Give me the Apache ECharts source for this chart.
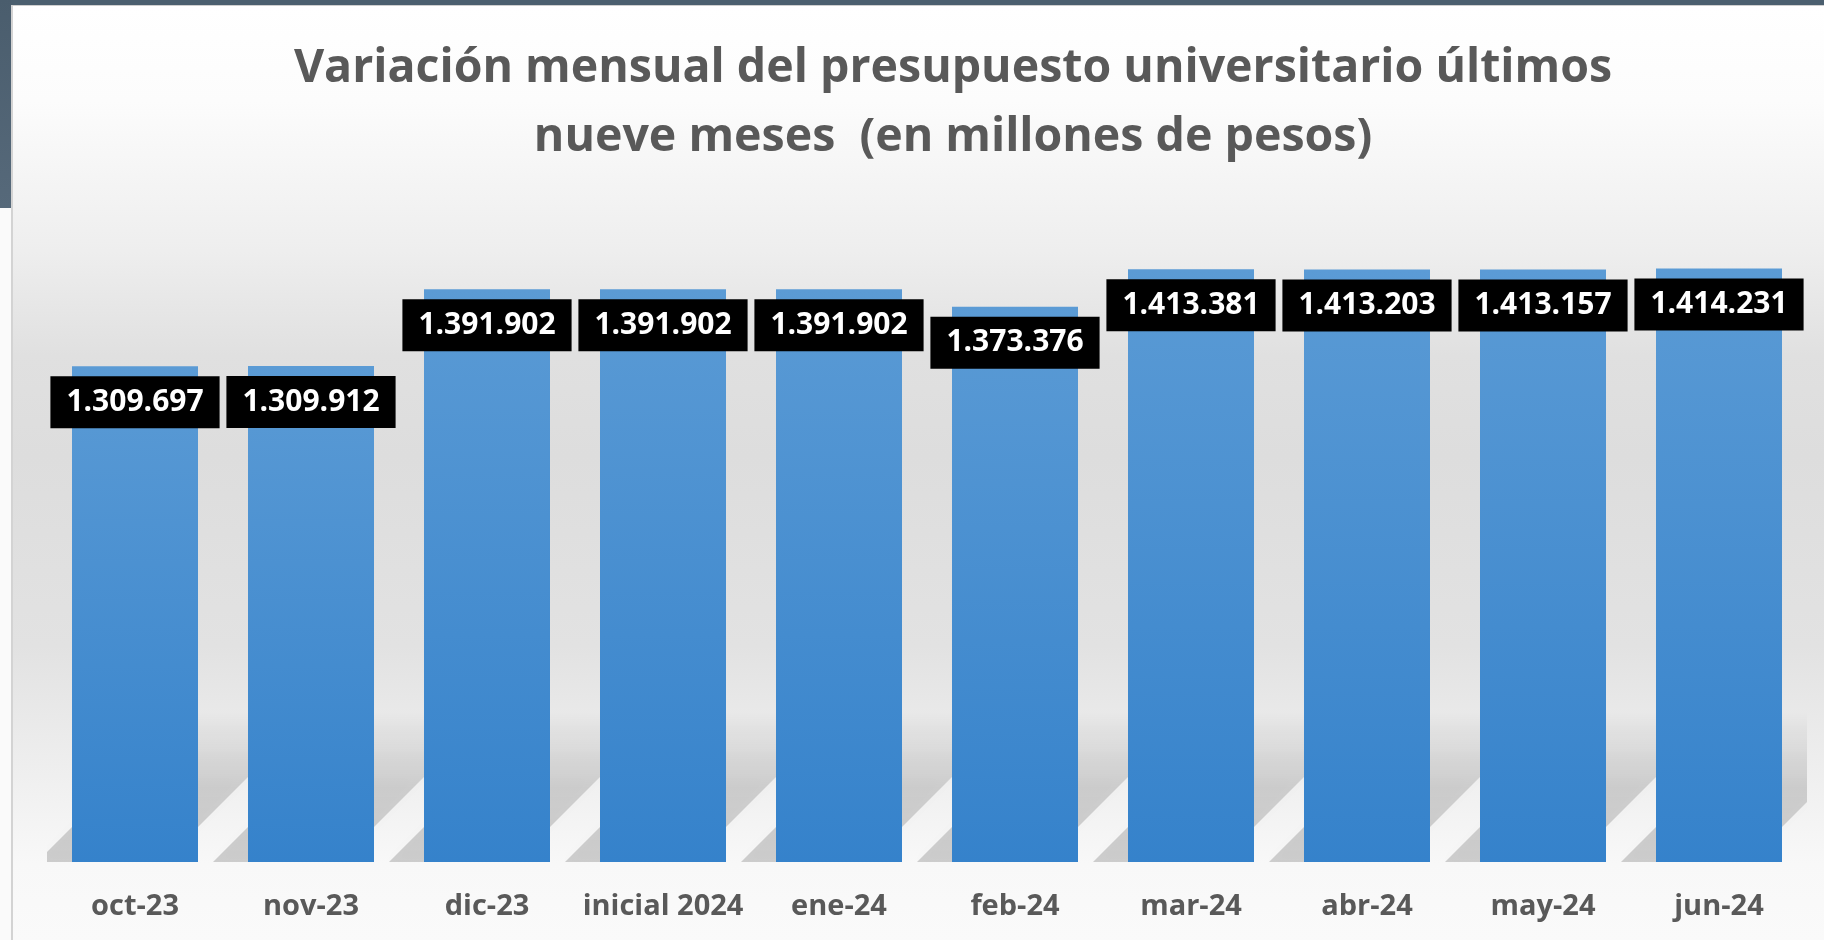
<!doctype html>
<html lang="es">
<head>
<meta charset="UTF-8"/>
<title>Variación mensual del presupuesto universitario</title>
<script src="https://cdn.jsdelivr.net/npm/echarts@6/dist/echarts.min.js"></script>
<style>
html, body { margin:0; padding:0; width:1824px; height:940px; overflow:hidden; background:#fafafa; }
.top_bar { position:absolute; left:0; top:0; width:1824px; height:5px; background:#4b5f6f; }
.side_bar { position:absolute; left:0; top:0; width:11px; height:208px; background:linear-gradient(to bottom,#4a5d6d,#56697a); }
.panel { position:absolute; left:11px; top:5px; width:1813px; height:935px; box-sizing:border-box;
  border-left:2px solid #d3d3d3; border-top:1px solid #cfcfcf;
  background:linear-gradient(to bottom,#ffffff 0px,#fcfcfc 95px,#eeeeee 245px,#e0e0e0 350px,#dddddd 450px,#e2e2e2 640px,#eeeeee 760px,#f8f8f8 857px,#fafafa 935px); }
#chart { position:absolute; left:0; top:0; width:1824px; height:940px; }
</style>
</head>
<body>

<div class="top_bar"></div>
<div class="side_bar"></div>
<div class="panel"></div>
<div id="chart"></div>

<script>
// datos (millones de pesos)
var meses = ['oct-23','nov-23','dic-23','inicial 2024','ene-24','feb-24','mar-24','abr-24','may-24','jun-24'];
var presupuesto = [1309697, 1309912, 1391902, 1391902, 1391902, 1373376, 1413381, 1413203, 1413157, 1414231];
var titulo = ['Variación mensual del presupuesto universitario últimos', 'nueve meses  (en millones de pesos)'];

var yMin = 780000, yMax = 1450000;

function fmt(v) {
    return String(v).replace(/\B(?=(\d{3})+(?!\d))/g, '.');
}

var myChart = echarts.init(document.getElementById('chart'), null, { renderer: 'canvas' });

var option = {
    backgroundColor: 'transparent',
    animation: false,
    graphic: [
        { type:'text', x:953, y:69, z:10, style:{ text:titulo[0], fill:'#595959', font:'bold 46.5px "Open Sans"', textAlign:'center', textVerticalAlign:'middle' } },
        { type:'text', x:953, y:138, z:10, style:{ text:titulo[1], fill:'#595959', font:'bold 46.5px "Open Sans"', textAlign:'center', textVerticalAlign:'middle' } }
    ],
    grid: { left:47, right:17, top:235, bottom:78 },
    xAxis: {
        type:'category',
        data: meses,
        axisLine:{ show:false },
        axisTick:{ show:false },
        axisLabel:{ interval:0, color:'#595959', fontFamily:'Open Sans', fontWeight:'bold', fontSize:29, margin:30 }
    },
    yAxis: {
        type:'value', min:yMin, max:yMax, show:false,
        splitLine:{ show:false }
    },
    series: [
        {
            // sombra en perspectiva detrás de las barras
            type:'custom',
            z:1,
            silent:true,
            clip:true,
            data: presupuesto.map(function(v, i){ return [i, v]; }),
            encode:{ x:0, y:1 },
            renderItem: function(params, api) {
                var base = api.coord([api.value(0), yMin]);
                var w = 126, a = 35, h = 150;
                var x0 = base[0] - w/2 - a, x1 = base[0] + w/2 - a, yb = base[1];
                return {
                    type:'polygon',
                    shape:{ points:[[x0, yb], [x1, yb], [x1 + h, yb - h], [x0 + h, yb - h]] },
                    style:{
                        fill: new echarts.graphic.LinearGradient(0, 1, 0, 0, [
                            { offset:0, color:'rgba(0,0,0,0.17)' },
                            { offset:0.5, color:'rgba(0,0,0,0.14)' },
                            { offset:1, color:'rgba(0,0,0,0)' }
                        ]),
                        shadowBlur:10, shadowColor:'rgba(0,0,0,0.08)'
                    }
                };
            }
        },
        {
            type:'bar',
            z:3,
            barWidth:126,
            data: presupuesto,
            itemStyle:{
                color: new echarts.graphic.LinearGradient(0, 0, 0, 1, [
                    { offset:0, color:'#5b9bd5' },
                    { offset:1, color:'#3582cb' }
                ])
            },
            label:{
                show:true,
                position:'insideTop',
                distance:10,
                formatter:function(p){ return fmt(p.value); },
                color:'#ffffff',
                fontFamily:'Open Sans',
                fontWeight:'bold',
                fontSize:30,
                lineHeight:30,
                backgroundColor:'#000000',
                padding:[11, 16]
            }
        }
    ]
};

myChart.setOption(option);
</script>

</body>
</html>
